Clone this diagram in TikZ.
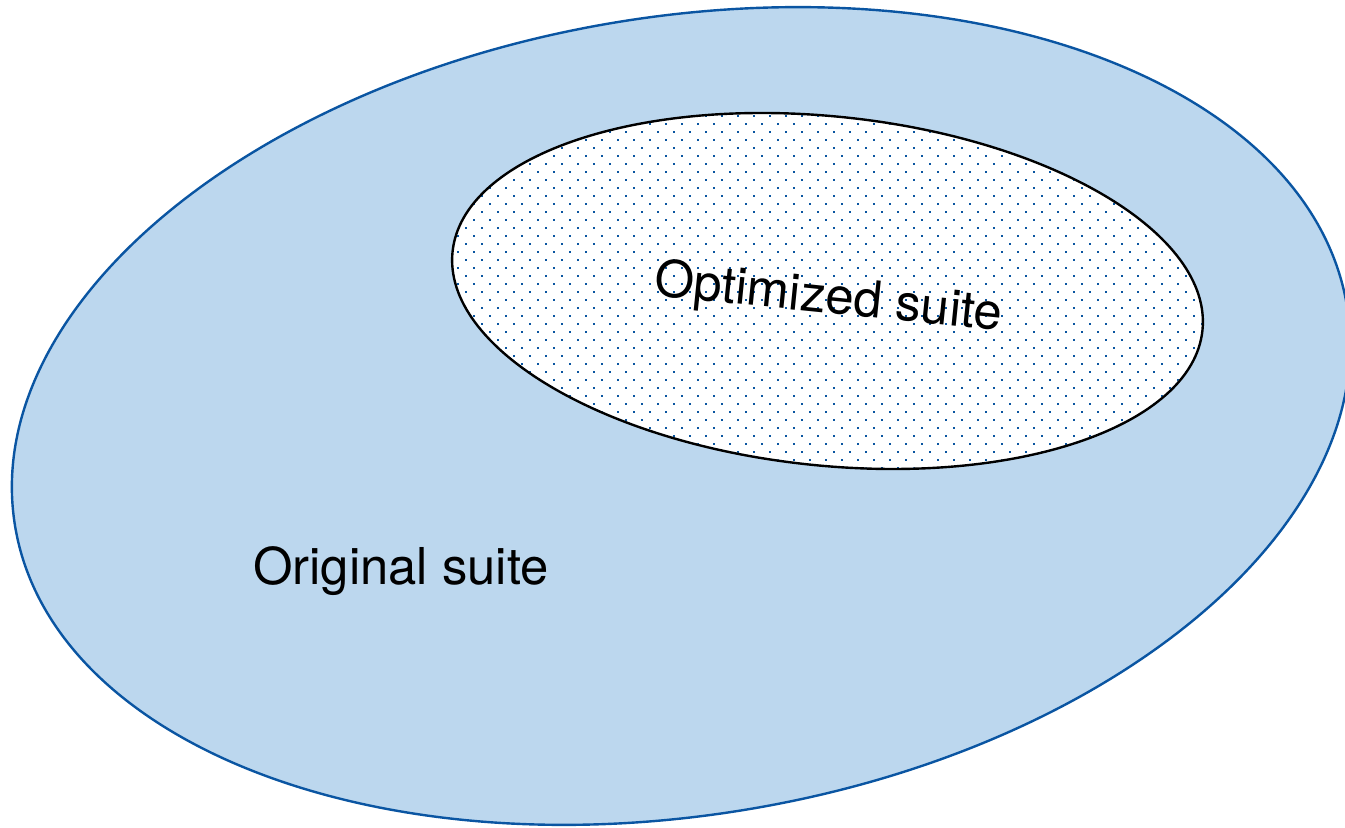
\documentclass[tikz,border=0pt]{standalone}
\usepackage{fontspec}
\setmainfont{TeX Gyre Heros}
\definecolor{setfill}{HTML}{BCD7EE}
\definecolor{setline}{HTML}{0A55A2}
\definecolor{dotcol}{HTML}{0A55A0}
\begin{document}
\begin{tikzpicture}[x=1bp,y=1bp,
  outerset/.style={fill=setfill, draw=setline, line width=2.4bp},
  innerset/.style={draw=black, line width=2.4bp},
  setlabel/.style={font=\fontsize{51}{61}\selectfont, inner sep=0pt, anchor=base}]
\useasboundingbox (0,0) rectangle (1345,827);
% original suite
\path[outerset, rotate around={9.4:(681,411)}] (681,411) ellipse [x radius=675, y radius=399];
% optimized suite
\coordinate (ic) at (827.5,536);
\fill[white, rotate around={-6:(ic)}] (ic) ellipse [x radius=377, y radius=174.5];
\begin{scope}
  \clip[rotate around={-6:(ic)}] (ic) ellipse [x radius=376, y radius=173.5];
  \foreach \j in {0,...,46}{
    \pgfmathsetmacro{\py}{827-(108+8*\j)}
    \pgfmathsetmacro{\off}{10-8*mod(\j,2)}
    \foreach \k in {28,...,76}{
      \fill[dotcol] ({\off+16*\k-1},{\py-1}) rectangle ++(2,2);
    }
  }
\end{scope}
\draw[innerset, rotate around={-6:(ic)}] (ic) ellipse [x radius=377, y radius=174.5];
\node[setlabel, rotate=-5.8] (opt) at (827,514) {Optimized suite};
\node[setlabel] (orig) at (401,242) {Original suite};
\end{tikzpicture}
\end{document}
